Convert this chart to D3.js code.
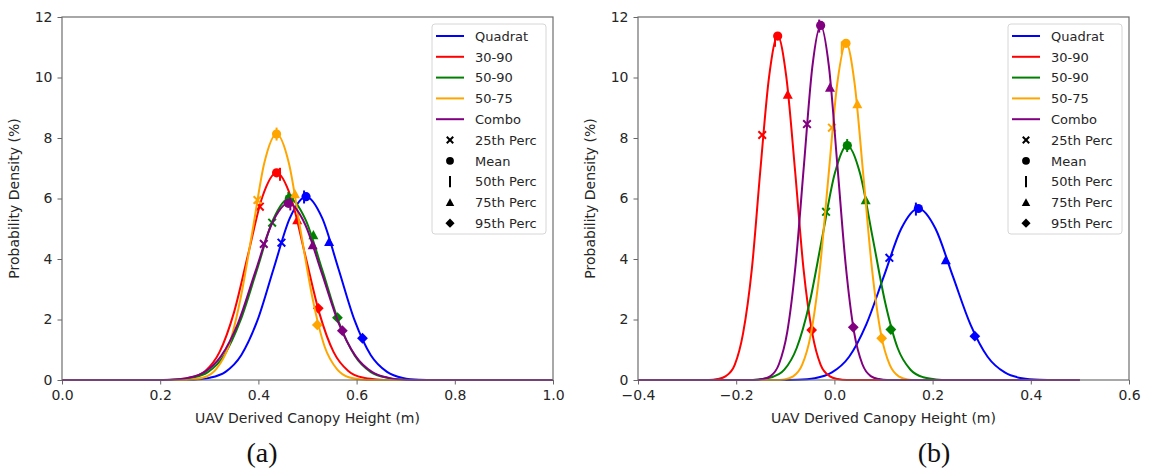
<!DOCTYPE html>
<html>
<head>
<meta charset="utf-8">
<script src="https://cdn.jsdelivr.net/npm/d3@7"></script>
<style>
  html, body { margin: 0; padding: 0; background: #fff; }
  svg { display: block; }
  text { font-family: "DejaVu Sans", sans-serif; }
</style>
</head>
<body>
<div id="chart"></div>
<script>
// ---------------- DATA ----------------
const seriesNames = ["Quadrat", "30-90", "50-90", "50-75", "Combo"];
const statNames = ["25th Perc", "Mean", "50th Perc", "75th Perc", "95th Perc"];
const yTicks = [0, 2, 4, 6, 8, 10, 12];
const xTicksA = [0.0, 0.2, 0.4, 0.6, 0.8, 1.0];
const xTicksB = [-0.4, -0.2, 0.0, 0.2, 0.4, 0.6];
const xDomainA = [0, 1];
const xDomainB = [-0.4, 0.6];
const yDomain = [0, 12];

// Panel (a) density curves [height (m), density (%)]
const aQuadrat = [[0,0],[0.234,0.00],[0.267,0.01],[0.300,0.07],[0.333,0.27],[0.365,0.82],[0.398,1.97],[0.431,3.68],[0.464,5.35],[0.497,6.06],[0.530,5.35],[0.563,3.68],[0.596,1.97],[0.629,0.82],[0.662,0.27],[0.694,0.07],[0.727,0.01],[0.760,0.00],[1,0]];
const a3090 = [[0,0],[0.204,0.00],[0.233,0.02],[0.262,0.08],[0.292,0.30],[0.321,0.93],[0.350,2.22],[0.379,4.15],[0.408,6.05],[0.437,6.85],[0.466,6.05],[0.495,4.15],[0.524,2.22],[0.553,0.93],[0.583,0.30],[0.612,0.08],[0.641,0.02],[0.670,0.00],[1,0]];
const a5090 = [[0,0],[0.197,0.00],[0.230,0.01],[0.264,0.07],[0.297,0.26],[0.330,0.81],[0.363,1.95],[0.397,3.64],[0.430,5.30],[0.463,6.00],[0.496,5.30],[0.530,3.64],[0.563,1.95],[0.596,0.81],[0.629,0.26],[0.663,0.07],[0.696,0.01],[0.729,0.00],[1,0]];
const a5075 = [[0,0],[0.241,0.00],[0.265,0.02],[0.290,0.09],[0.314,0.36],[0.339,1.10],[0.363,2.64],[0.388,4.93],[0.412,7.17],[0.437,8.13],[0.462,7.17],[0.486,4.93],[0.511,2.64],[0.535,1.10],[0.560,0.36],[0.584,0.09],[0.609,0.02],[0.633,0.00],[1,0]];
const aCombo = [[0,0],[0.188,0.00],[0.222,0.01],[0.256,0.07],[0.290,0.26],[0.324,0.79],[0.359,1.90],[0.393,3.54],[0.427,5.15],[0.461,5.84],[0.495,5.15],[0.529,3.54],[0.563,1.90],[0.598,0.79],[0.632,0.26],[0.666,0.07],[0.700,0.01],[0.734,0.00],[1,0]];

// Panel (b) density curves
const bQuadrat = [[-0.4,0],[-0.111,0.00],[-0.075,0.01],[-0.040,0.06],[-0.005,0.25],[0.030,0.77],[0.065,1.84],[0.101,3.44],[0.136,5.00],[0.171,5.67],[0.206,5.00],[0.241,3.44],[0.277,1.84],[0.312,0.77],[0.347,0.25],[0.382,0.06],[0.417,0.01],[0.453,0.00],[0.5,0]];
const b3090 = [[-0.4,0],[-0.256,0.00],[-0.238,0.03],[-0.221,0.13],[-0.203,0.50],[-0.186,1.54],[-0.168,3.69],[-0.151,6.90],[-0.133,10.03],[-0.1155,11.37],[-0.098,10.03],[-0.080,6.90],[-0.063,3.69],[-0.045,1.54],[-0.028,0.50],[-0.010,0.13],[0.007,0.03],[0.025,0.00],[0.5,0]];
const b5090 = [[-0.4,0],[-0.180,0.00],[-0.154,0.02],[-0.128,0.09],[-0.102,0.34],[-0.077,1.05],[-0.051,2.52],[-0.025,4.70],[0.001,6.84],[0.026,7.75],[0.052,6.84],[0.078,4.70],[0.104,2.52],[0.129,1.05],[0.155,0.34],[0.181,0.09],[0.207,0.02],[0.232,0.00],[0.5,0]];
const b5075 = [[-0.4,0],[-0.120,0.00],[-0.102,0.02],[-0.084,0.12],[-0.066,0.49],[-0.048,1.51],[-0.030,3.61],[-0.012,6.75],[0.006,9.82],[0.024,11.13],[0.041,9.82],[0.059,6.75],[0.077,3.61],[0.095,1.51],[0.113,0.49],[0.131,0.12],[0.149,0.02],[0.167,0.00],[0.5,0]];
const bCombo = [[-0.4,0],[-0.164,0.00],[-0.147,0.03],[-0.130,0.13],[-0.113,0.52],[-0.096,1.59],[-0.079,3.81],[-0.062,7.11],[-0.045,10.34],[-0.028,11.72],[-0.011,10.34],[0.006,7.11],[0.023,3.81],[0.040,1.59],[0.057,0.52],[0.074,0.13],[0.091,0.03],[0.108,0.00],[0.5,0]];

// Marker positions per statistic, one [x, y] per series (Quadrat, 30-90, 50-90, 50-75, Combo)
const aP25  = [[0.447,4.54],[0.403,5.73],[0.428,5.20],[0.398,5.95],[0.411,4.50]];
const aMean = [[0.497,6.06],[0.437,6.85],[0.463,6.00],[0.437,8.13],[0.461,5.84]];
const aP50  = [[0.493,6.05],[0.444,6.80],[0.461,6.00],[0.437,8.13],[0.465,5.82]];
const aP75  = [[0.544,4.57],[0.479,5.29],[0.512,4.79],[0.4745,6.15],[0.5105,4.46]];
const aP95  = [[0.612,1.38],[0.522,2.37],[0.561,2.06],[0.520,1.82],[0.571,1.63]];

const bP25  = [[0.112,4.04],[-0.147,8.10],[-0.017,5.56],[-0.005,8.34],[-0.0558,8.46]];
const bMean = [[0.171,5.67],[-0.1155,11.37],[0.0263,7.75],[0.0236,11.13],[-0.028,11.72]];
const bP50  = [[0.166,5.65],[-0.121,11.23],[0.026,7.75],[0.015,10.98],[-0.031,11.70]];
const bP75  = [[0.227,3.97],[-0.095,9.44],[0.0637,5.95],[0.0467,9.12],[-0.009,9.67]];
const bP95  = [[0.286,1.45],[-0.0463,1.65],[0.115,1.67],[0.0963,1.38],[0.0385,1.74]];

// ---------------- STYLE ----------------
const colors = ["#0000ff", "#ff0000", "#008000", "#ffa500", "#800080"];
const W = 1152, H = 470;

const svg = d3.select("#chart").append("svg")
  .attr("width", W).attr("height", H)
  .style("background", "#fff");

// marker shape painters
function drawMarker(g, type, cx, cy, color, scale) {
  const s = scale || 1;
  if (type === 0) { // x
    const r = 3.8 * s;
    g.append("path")
      .attr("d", `M${cx - r},${cy - r}L${cx + r},${cy + r}M${cx - r},${cy + r}L${cx + r},${cy - r}`)
      .attr("stroke", color).attr("stroke-width", 2).attr("fill", "none");
  } else if (type === 1) { // circle
    g.append("circle").attr("cx", cx).attr("cy", cy).attr("r", 4.6 * s).attr("fill", color);
  } else if (type === 2) { // vertical line
    const r = 6.5 * s;
    g.append("path").attr("d", `M${cx},${cy - r}L${cx},${cy + r}`)
      .attr("stroke", color).attr("stroke-width", 2).attr("fill", "none");
  } else if (type === 3) { // triangle up
    const r = 5 * s;
    g.append("path")
      .attr("d", `M${cx},${cy - r}L${cx + r},${cy + r * 0.85}L${cx - r},${cy + r * 0.85}Z`)
      .attr("fill", color);
  } else if (type === 4) { // diamond
    const r = 5.4 * s;
    g.append("path")
      .attr("d", `M${cx},${cy - r}L${cx + r},${cy}L${cx},${cy + r}L${cx - r},${cy}Z`)
      .attr("fill", color);
  }
}

function drawPanel(opts) {
  const g = svg.append("g");
  const x = d3.scaleLinear().domain(opts.xDomain).range([opts.left, opts.right]);
  const y = d3.scaleLinear().domain(yDomain).range([380, 17]);

  // axes
  const xAxis = d3.axisBottom(x).tickValues(opts.xTicks).tickSize(4.5).tickPadding(6)
    .tickFormat(d3.format(".1f"));
  const yAxis = d3.axisLeft(y).tickValues(yTicks).tickSize(4.5).tickPadding(5)
    .tickFormat(d3.format("d"));

  const gx = g.append("g").attr("transform", `translate(0,380)`).call(xAxis);
  const gy = g.append("g").attr("transform", `translate(${opts.left},0)`).call(yAxis);
  [gx, gy].forEach(a => {
    a.select(".domain").remove();
    a.selectAll(".tick line").attr("stroke", "#666").attr("stroke-width", 1);
    a.selectAll(".tick text").attr("fill", "#262626").style("font-size", "14px")
      .style("font-family", "'DejaVu Sans', sans-serif");
  });

  // curves
  const line = d3.line().x(d => x(d[0])).y(d => y(d[1])).curve(d3.curveMonotoneX);
  const plot = g.append("g");
  opts.curves.forEach((c, i) => {
    plot.append("path").datum(c).attr("d", line)
      .attr("fill", "none").attr("stroke", colors[i]).attr("stroke-width", 2)
      .attr("stroke-linejoin", "round");
    opts.stats.forEach((arr, t) => {
      drawMarker(plot, t, x(arr[i][0]), y(arr[i][1]), colors[i]);
    });
  });

  // frame
  g.append("rect").attr("x", opts.left).attr("y", 17)
    .attr("width", opts.right - opts.left).attr("height", 363)
    .attr("fill", "none").attr("stroke", "#6e6e6e").attr("stroke-width", 1.2);

  // axis labels
  g.append("text").attr("x", (opts.left + opts.right) / 2).attr("y", 423)
    .attr("text-anchor", "middle").style("font-size", "14px").attr("fill", "#262626")
    .text("UAV Derived Canopy Height (m)");
  g.append("text")
    .attr("transform", `translate(${opts.left - 43},${(17 + 380) / 2}) rotate(-90)`)
    .attr("text-anchor", "middle").style("font-size", "14px").attr("fill", "#262626")
    .text("Probability Density (%)");

  // panel letter
  g.append("text").attr("x", opts.letterX).attr("y", 462)
    .attr("text-anchor", "middle")
    .style("font-family", "'Liberation Serif', 'Times New Roman', serif")
    .style("font-size", "28px").attr("fill", "#111")
    .text(opts.letter);

  // legend
  const lx = opts.right - 121, ly = 24;
  const lg = g.append("g");
  lg.append("rect").attr("x", lx).attr("y", ly).attr("width", 114).attr("height", 210)
    .attr("rx", 3).attr("fill", "#fff").attr("fill-opacity", 0.85)
    .attr("stroke", "#d6d6d6").attr("stroke-width", 1);
  const labels = seriesNames.concat(statNames);
  labels.forEach((lab, k) => {
    const cy = ly + 12 + k * 20.8;
    if (k < seriesNames.length) {
      lg.append("line").attr("x1", lx + 4).attr("x2", lx + 32).attr("y1", cy).attr("y2", cy)
        .attr("stroke", colors[k]).attr("stroke-width", 2);
    } else {
      drawMarker(lg, k - seriesNames.length, lx + 18, cy, "#000", 0.85);
    }
    lg.append("text").attr("x", lx + 43).attr("y", cy + 4.8)
      .style("font-size", "13px").attr("fill", "#262626").text(lab);
  });
}

drawPanel({
  left: 62, right: 553, xDomain: xDomainA, xTicks: xTicksA,
  curves: [aQuadrat, a3090, a5090, a5075, aCombo],
  stats: [aP25, aMean, aP50, aP75, aP95],
  letter: "(a)", letterX: 262
});
drawPanel({
  left: 638, right: 1129, xDomain: xDomainB, xTicks: xTicksB,
  curves: [bQuadrat, b3090, b5090, b5075, bCombo],
  stats: [bP25, bMean, bP50, bP75, bP95],
  letter: "(b)", letterX: 934
});
</script>
</body>
</html>
